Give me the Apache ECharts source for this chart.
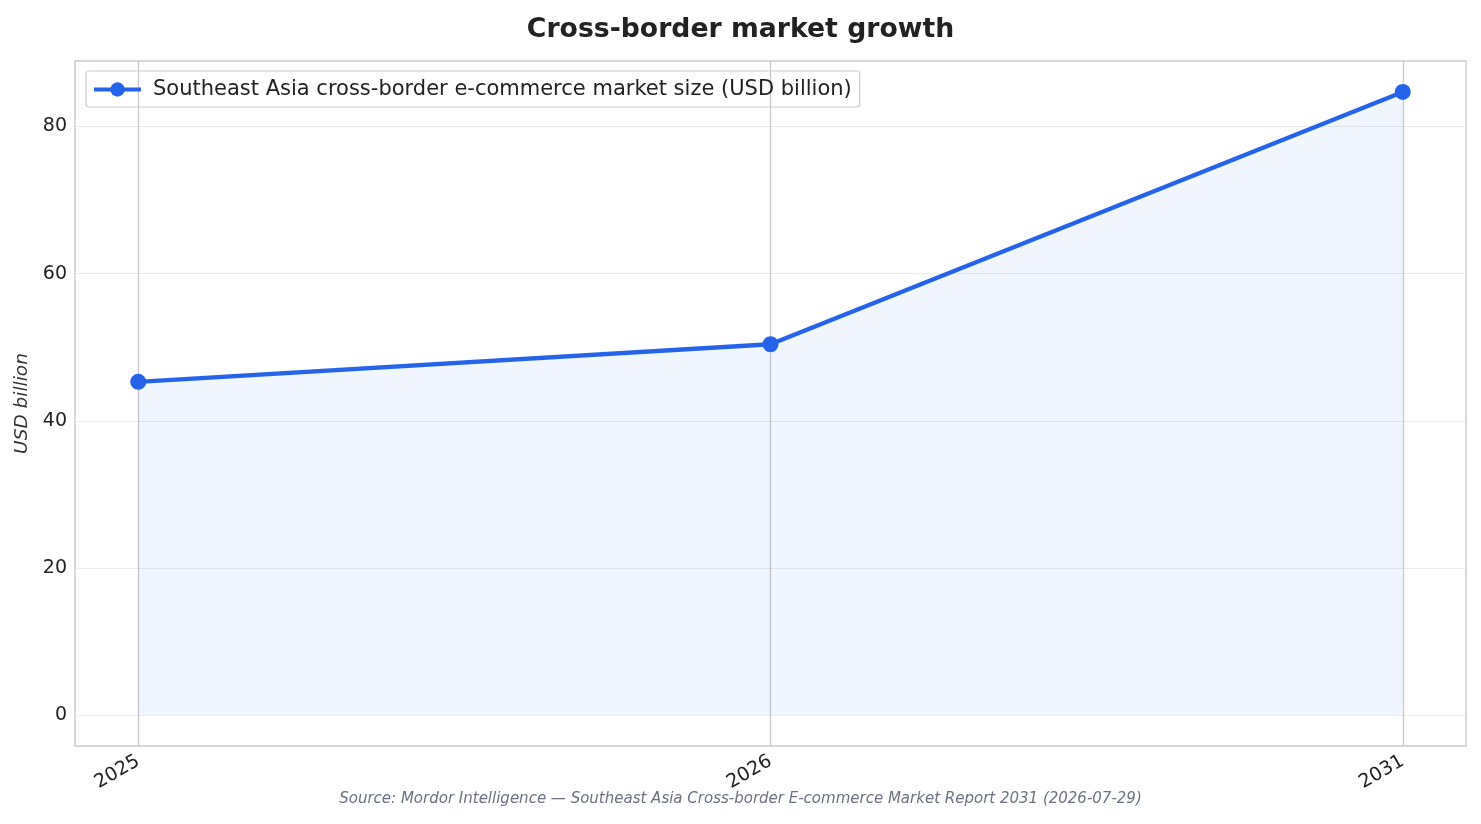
<!DOCTYPE html>
<html>
<head>
<meta charset="utf-8">
<script src="https://cdn.jsdelivr.net/npm/echarts@6/dist/echarts.min.js"></script>
<style>
  html, body { margin: 0; padding: 0; background: #fff; }
  #main { width: 1481px; height: 824px; }
</style>
</head>
<body>
<div id="main"></div>
<script>
// 数据
var years = ['2025', '2026', '2031'];
var marketSize = [45.3, 50.4, 84.7];
var yTicks = [0, 20, 40, 60, 80];
var seriesName = 'Southeast Asia cross-border e-commerce market size (USD billion)';

var font = '"DejaVu Sans", sans-serif';
var blue = '#2563eb';

var points = [];
for (var i = 0; i < years.length; i++) {
	points.push([i, marketSize[i]]);
}
var xIdx = years.map(function (y, i) { return i; });

var myChart = echarts.init(document.getElementById('main'));
var option = {
	backgroundColor: '#fff',
	textStyle: { fontFamily: font },
	title: {
		text: 'Cross-border market growth',
		left: 'center',
		top: 12,
		textStyle: { fontFamily: font, fontSize: 26.7, fontWeight: 'bold', color: '#222' }
	},
	legend: {
		data: [seriesName],
		left: 86,
		top: 71,
		padding: [8, 8, 7, 6],
		borderColor: '#cccccc',
		borderWidth: 1.2,
		borderRadius: 3,
		itemWidth: 47,
		itemHeight: 18,
		itemGap: 8,
		lineStyle: { width: 4 },
		textStyle: { fontFamily: font, fontSize: 21, color: '#222', padding: [0, 0, 0, 7] }
	},
	grid: {
		left: 75,
		right: 15,
		top: 61,
		bottom: 78,
		show: true,
		borderColor: '#cccccc',
		borderWidth: 1.5,
		containLabel: false,
		outerBoundsMode: 'none'
	},
	xAxis: {
		type: 'value',
		min: -0.1,
		max: 2.1,
		axisLine: { show: false },
		axisTick: { show: false, customValues: xIdx },
		axisLabel: {
			customValues: xIdx,
			rotate: 30,
			margin: 14,
			fontFamily: font,
			fontSize: 19,
			color: '#222',
			formatter: function (v) { return years[Math.round(v)]; }
		},
		splitLine: { show: true, lineStyle: { color: '#c8c8c8', width: 1.3 } }
	},
	yAxis: {
		type: 'value',
		min: -4.2,
		max: 88.9,
		name: 'USD billion',
		nameLocation: 'middle',
		nameGap: 42,
		nameTextStyle: { fontFamily: font, fontSize: 18.5, fontStyle: 'italic', color: '#333' },
		axisLine: { show: false },
		axisTick: { show: false, customValues: yTicks },
		axisLabel: {
			customValues: yTicks,
			margin: 8,
			fontFamily: font,
			fontSize: 19,
			color: '#222'
		},
		splitLine: { show: true, lineStyle: { color: '#ececec', width: 1.2 } }
	},
	graphic: [{
		type: 'text',
		left: 'center',
		top: 792,
		style: {
			text: 'Source: Mordor Intelligence \u2014 Southeast Asia Cross-border E-commerce Market Report 2031 (2026-07-29)',
			fontFamily: font,
			fontSize: 15,
			fontStyle: 'italic',
			fill: '#6b7280'
		}
	}],
	series: [{
		name: seriesName,
		type: 'line',
		data: points,
		symbol: 'circle',
		symbolSize: 16,
		itemStyle: { color: blue },
		lineStyle: { color: blue, width: 4.3 },
		areaStyle: { color: 'rgba(37,99,235,0.09)', origin: 0 },
		z: 3
	}]
};
myChart.setOption(option, true);
</script>
</body>
</html>
